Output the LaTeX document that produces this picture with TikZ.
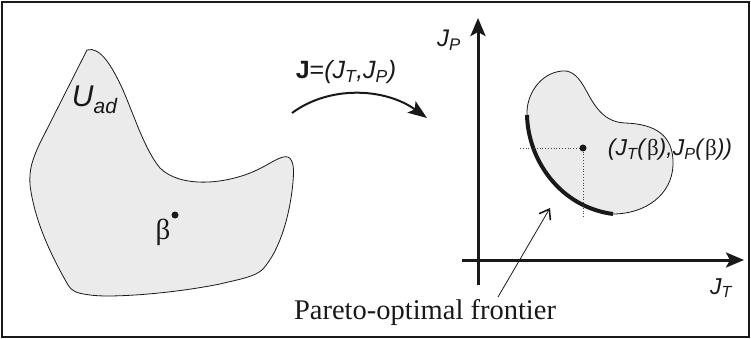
\documentclass[tikz,border=0pt]{standalone}
\usepackage{fontspec}
\setmainfont{Liberation Serif}
\setsansfont{Liberation Sans}
\usetikzlibrary{arrows.meta}
\definecolor{blobgray}{RGB}{235,235,235}
\definecolor{ink}{RGB}{25,25,25}
\newcommand{\fsz}[1]{\fontsize{#1}{#1}\selectfont}
\tikzset{
    blob/.style={draw=ink, line width=0.8pt, fill=blobgray},
    dot/.style={circle, fill=ink, inner sep=0pt, minimum size=7pt},
    lbl/.style={inner sep=0.75pt, text=ink},
    axis/.style={draw=ink, line width=3pt, -{Stealth[length=18pt,width=15pt,inset=4pt]}},
    map/.style={draw=ink, line width=2pt, -{Stealth[length=19pt,width=14pt,inset=4pt]}},
    frontier/.style={draw=ink, line width=4pt},
    guide/.style={draw=ink!80, line width=0.8pt, dotted},
    ptr/.style={draw=ink, line width=0.8pt, -{Straight Barb[length=9pt,width=13pt,line width=1.6pt]}}
}
\begin{document}
\begin{tikzpicture}[x=1pt,y=1pt,yscale=-1,xscale=1]
        \useasboundingbox (0,0) rectangle (751,339);
        \draw [line width=2pt, ink] (2,2) rectangle (749,337);
        % admissible set U_ad
        \draw [blob] (87,50) .. controls (100,46) and (112,66) .. (123,90) .. controls (135,118) and (145,150) .. (160,168) .. controls (180,188) and (225,185) .. (257,170) .. controls (270,164) and (281,155) .. (288,157) .. controls (294,160) and (294,170) .. (293,182) .. controls (290,215) and (280,250) .. (263,269) .. controls (255,277) and (240,279) .. (220,284) .. controls (170,294) and (110,298) .. (90,295) .. controls (75,293) and (72,291) .. (68,285) .. controls (55,262) and (35,225) .. (30,185) .. controls (29,170) and (32,160) .. (40,143) -- cycle ;
        \node [dot] (b) at (175,215) {};
        \node [lbl] (beta) at (163,232) {\fsz{29}\rmfamily β};
        \node [lbl] (uad) at (95,100) {\fsz{30}\sffamily\textit{U}\textsubscript{\textit{ad}}};
        % the map J
        \coordinate (mfrom) at (292,113);
        \coordinate (mto) at (427,118);
        \draw [map] (mfrom) .. controls (330,85) and (385,88) .. (mto);
        \node [lbl] (jmap) at (346,72) {\fsz{25}\sffamily\textbf{J}=\textit{(J\textsubscript{T},J\textsubscript{P})}};
        % criteria plane
        \coordinate (xs) at (462,260);
        \coordinate (xe) at (744,260);
        \coordinate (ys) at (478,285);
        \coordinate (ye) at (478,18);
        \draw [axis] (xs) -- (xe);
        \draw [axis] (ys) -- (ye);
        \node [lbl] (jt) at (721,288) {\fsz{23}\sffamily\textit{J\textsubscript{T}}};
        \node [lbl] (jp) at (449,40) {\fsz{24}\sffamily\textit{J\textsubscript{P}}};
        % image set J(U_ad)
        \coordinate (fa) at (527,115);
        \coordinate (fb) at (613,214);
        \fill [blobgray] (fa) .. controls (528,160) and (560,207) .. (fb) .. controls (645,214) and (672,195) .. (673,165) .. controls (674,135) and (655,124) .. (625,123) .. controls (600,122) and (592,100) .. (583,85) .. controls (577,75) and (570,70) .. (562,71) .. controls (540,73) and (526,95) .. (fa) -- cycle ;
        \draw [ink, line width=0.8pt] (fb) .. controls (645,214) and (672,195) .. (673,165) .. controls (674,135) and (655,124) .. (625,123) .. controls (600,122) and (592,100) .. (583,85) .. controls (577,75) and (570,70) .. (562,71) .. controls (540,73) and (526,95) .. (fa);
        \draw [frontier] (fa) .. controls (528,160) and (560,207) .. (fb);
        \node [dot] (jb) at (583,148) {};
        \coordinate (gl) at (520,148);
        \coordinate (gb) at (583,218);
        \draw [guide] (gl) -- (jb);
        \draw [guide] (jb) -- (gb);
        \node [lbl] (pair) at (670,150) {\fsz{23}\sffamily\textit{(J\textsubscript{T}(}{\rmfamily β}\textit{),J\textsubscript{P}(}{\rmfamily β}\textit{))}};
        % Pareto label
        \node [lbl] (pareto) at (425,312) {\fsz{28.5}Pareto-optimal frontier};
        \coordinate (ptail) at (498,297);
        \coordinate (front) at (550,208);
        \draw [ptr] (ptail) -- (front);
    \end{tikzpicture}
\end{document}
